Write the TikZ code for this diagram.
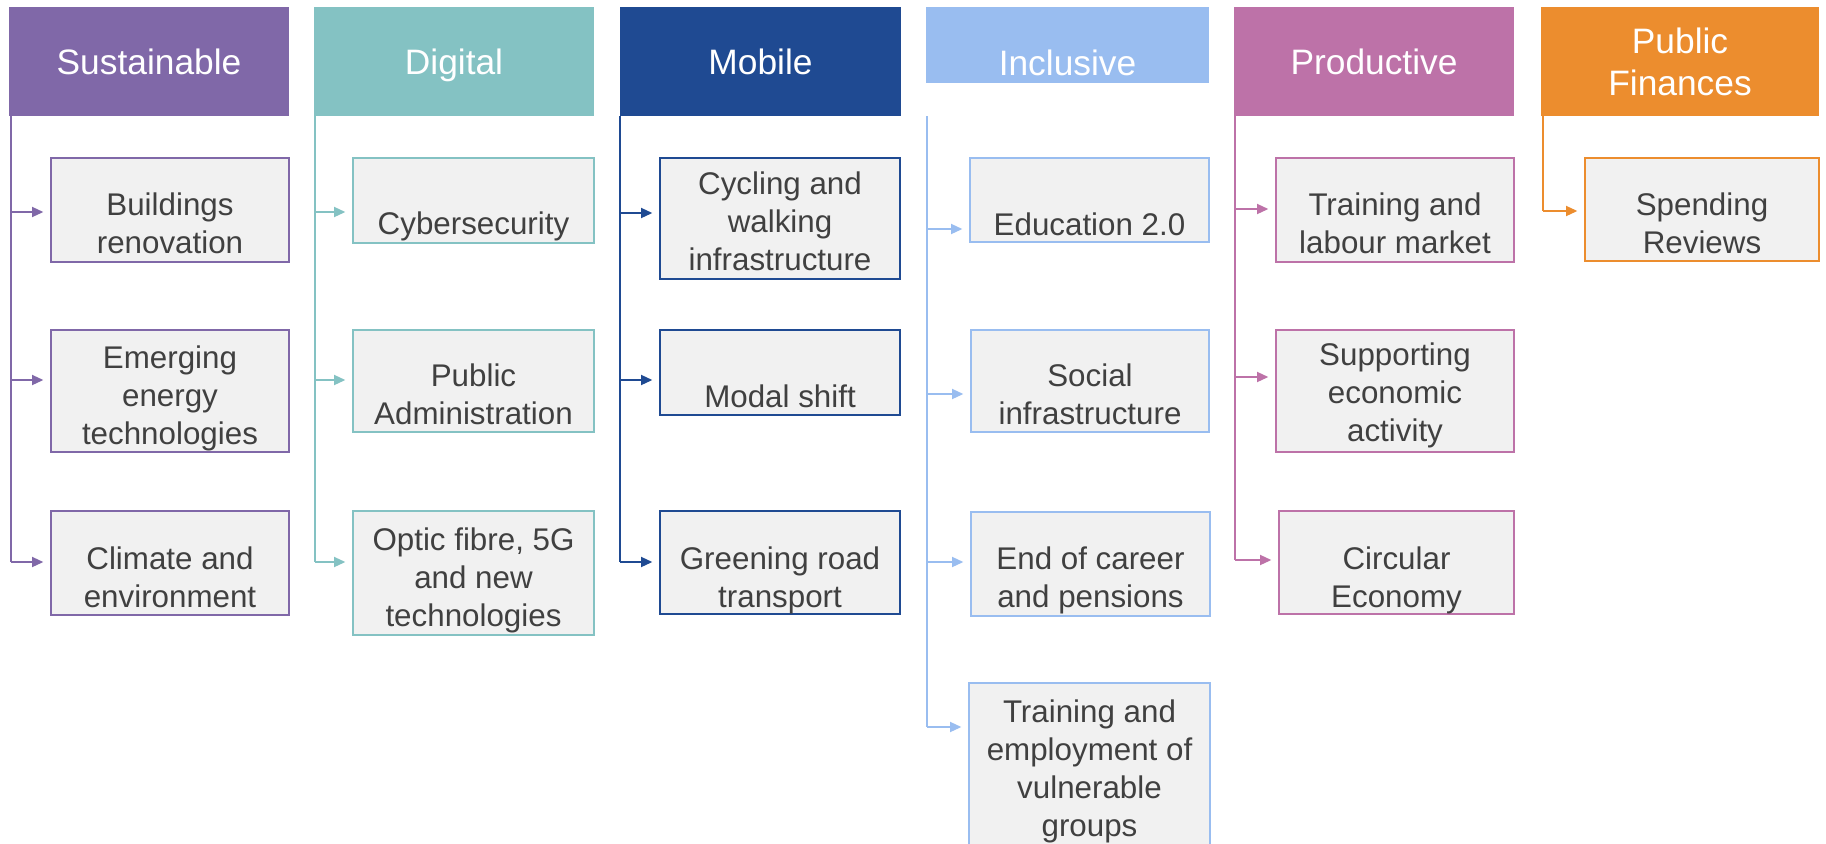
\documentclass[tikz,border=0pt]{standalone}
\usepackage{fontspec}
\setmainfont{Liberation Sans}
\usetikzlibrary{arrows.meta}
\definecolor{csus}{HTML}{8068A8}
\definecolor{cdig}{HTML}{84C2C3}
\definecolor{cmob}{HTML}{1F4A92}
\definecolor{cinc}{HTML}{99BDF0}
\definecolor{cpro}{HTML}{BD72A8}
\definecolor{cpub}{HTML}{EC8D2E}
\definecolor{boxfill}{HTML}{F1F1F1}
\definecolor{txtgray}{HTML}{404040}
\tikzset{
  hdr/.style={fill=#1, draw=none, inner sep=0pt},
  itm/.style={draw=#1, fill=boxfill, line width=1.5pt, inner sep=0pt},
  hdrtext/.style={text=white, font=\fontsize{26.5}{31.5}\selectfont, align=center, inner sep=0pt},
  itmtext/.style={text=txtgray, font=\fontsize{23.5}{28.5}\selectfont, align=center, inner sep=0pt},
  trunk/.style={draw=#1, line width=1.4pt},
  arr/.style={draw=#1, line width=1.4pt, -{Triangle[length=8.5pt,width=7.5pt]}, shorten >=5pt},
}
% name, colour, x1, y1, x2, y2, baseline y, text
\newcommand{\hdrbox}[8]{%
  \node[hdr=#2, minimum width={(#5-#3)*0.75pt}, minimum height={(#6-#4)*0.75pt}] (#1) at ({(#3+#5)/2},{(#4+#6)/2}) {};
  \node[hdrtext, anchor=base] (#1t) at ({(#3+#5)/2},#7) {#8};
}
\newcommand{\itembox}[8]{%
  \node[itm=#2, minimum width={(#5-#3)*0.75pt}, minimum height={(#6-#4)*0.75pt}] (#1) at ({(#3+#5)/2},{(#4+#6)/2}) {};
  \node[itmtext] (#1t) at ({(#3+#5)/2},#7) {#8};
}
\begin{document}
\begin{tikzpicture}[x=0.75pt,y=-0.75pt]
\useasboundingbox (0,0) rectangle (1826,843);
\fill[white] (0,0) rectangle (1826,843);
\clip (0,0) rectangle (1826,843);
% headers
\hdrbox{H1}{csus}{9}{7}{289}{116}{74}{Sustainable}
\hdrbox{H2}{cdig}{314}{7}{594}{116}{74}{Digital}
\hdrbox{H3}{cmob}{620}{7}{901}{116}{74}{Mobile}
\hdrbox{H4}{cinc}{926}{7}{1209}{83}{75}{Inclusive}
\hdrbox{H5}{cpro}{1234}{7}{1514}{116}{74}{Productive}
\node[hdr=cpub, minimum width={(1819-1541)*0.75pt}, minimum height={(116-7)*0.75pt}] (H6) at ({(1541+1819)/2},{(7+116)/2}) {};
\node[hdrtext] (H6t) at ({(1541+1819)/2},62) {Public\\Finances};
% Sustainable
\itembox{S1}{csus}{51}{158}{289}{262}{223}{Buildings\\renovation}
\itembox{S2}{csus}{51}{330}{289}{452}{398}{Emerging\\energy\\technologies}
\itembox{S3}{csus}{51}{511}{289}{615}{577}{Climate and\\environment}
% Digital
\itembox{D1}{cdig}{353}{158}{594}{243}{226}{Cybersecurity}
\itembox{D2}{cdig}{353}{330}{594}{432}{394}{Public\\Administration}
\itembox{D3}{cdig}{353}{511}{594}{635}{580}{Optic fibre, 5G\\and new\\technologies}
% Mobile
\itembox{M1}{cmob}{660}{158}{900}{279}{221}{Cycling and\\walking\\infrastructure}
\itembox{M2}{cmob}{660}{330}{900}{415}{396}{Modal shift}
\itembox{M3}{cmob}{660}{511}{900}{614}{580}{Greening road\\transport}
% Inclusive
\itembox{I1}{cinc}{970}{158}{1209}{242}{224}{Education 2.0}
\itembox{I2}{cinc}{971}{330}{1209}{432}{394}{Social\\infrastructure}
\itembox{I3}{cinc}{971}{512}{1210}{616}{580}{End of career\\and pensions}
\itembox{I4}{cinc}{969}{683}{1210}{880}{771.5}{Training and\\employment of\\vulnerable\\groups}
% Productive
\itembox{P1}{cpro}{1276}{158}{1514}{262}{223}{Training and\\labour market}
\itembox{P2}{cpro}{1276}{330}{1514}{452}{395}{Supporting\\economic\\activity}
\itembox{P3}{cpro}{1279}{511}{1514}{614}{580}{Circular\\Economy}
% Public finances
\itembox{F1}{cpub}{1585}{158}{1819}{261}{223}{Spending\\Reviews}
% trunks and arrows
\coordinate (s0) at (11,116); \coordinate (s1) at (11,212); \coordinate (s2) at (11,380); \coordinate (s3) at (11,562);
\draw[trunk=csus] (s0) -- (s3);
\draw[arr=csus] (s1) -- (s1 -| S1.west);
\draw[arr=csus] (s2) -- (s2 -| S2.west);
\draw[arr=csus] (s3) -- (s3 -| S3.west);
\coordinate (d0) at (315,116); \coordinate (d1) at (315,212); \coordinate (d2) at (315,380); \coordinate (d3) at (315,562);
\draw[trunk=cdig] (d0) -- (d3);
\draw[arr=cdig] (d1) -- (d1 -| D1.west);
\draw[arr=cdig] (d2) -- (d2 -| D2.west);
\draw[arr=cdig] (d3) -- (d3 -| D3.west);
\coordinate (m0) at (620,116); \coordinate (m1) at (620,213); \coordinate (m2) at (620,380); \coordinate (m3) at (620,562);
\draw[trunk=cmob] (m0) -- (m3);
\draw[arr=cmob] (m1) -- (m1 -| M1.west);
\draw[arr=cmob] (m2) -- (m2 -| M2.west);
\draw[arr=cmob] (m3) -- (m3 -| M3.west);
\coordinate (i0) at (927,116); \coordinate (i1) at (927,229); \coordinate (i2) at (927,394); \coordinate (i3) at (927,562); \coordinate (i4) at (927,727);
\draw[trunk=cinc] (i0) -- (i4);
\draw[arr=cinc] (i1) -- (i1 -| I1.west);
\draw[arr=cinc] (i2) -- (i2 -| I2.west);
\draw[arr=cinc] (i3) -- (i3 -| I3.west);
\draw[arr=cinc] (i4) -- (i4 -| I4.west);
\coordinate (p0) at (1235,116); \coordinate (p1) at (1235,209); \coordinate (p2) at (1235,377); \coordinate (p3) at (1235,560);
\draw[trunk=cpro] (p0) -- (p3);
\draw[arr=cpro] (p1) -- (p1 -| P1.west);
\draw[arr=cpro] (p2) -- (p2 -| P2.west);
\draw[arr=cpro] (p3) -- (p3 -| P3.west);
\coordinate (f0) at (1543,116); \coordinate (f1) at (1543,211);
\draw[trunk=cpub] (f0) -- (f1);
\draw[arr=cpub] (f1) -- (f1 -| F1.west);
\end{tikzpicture}
\end{document}
